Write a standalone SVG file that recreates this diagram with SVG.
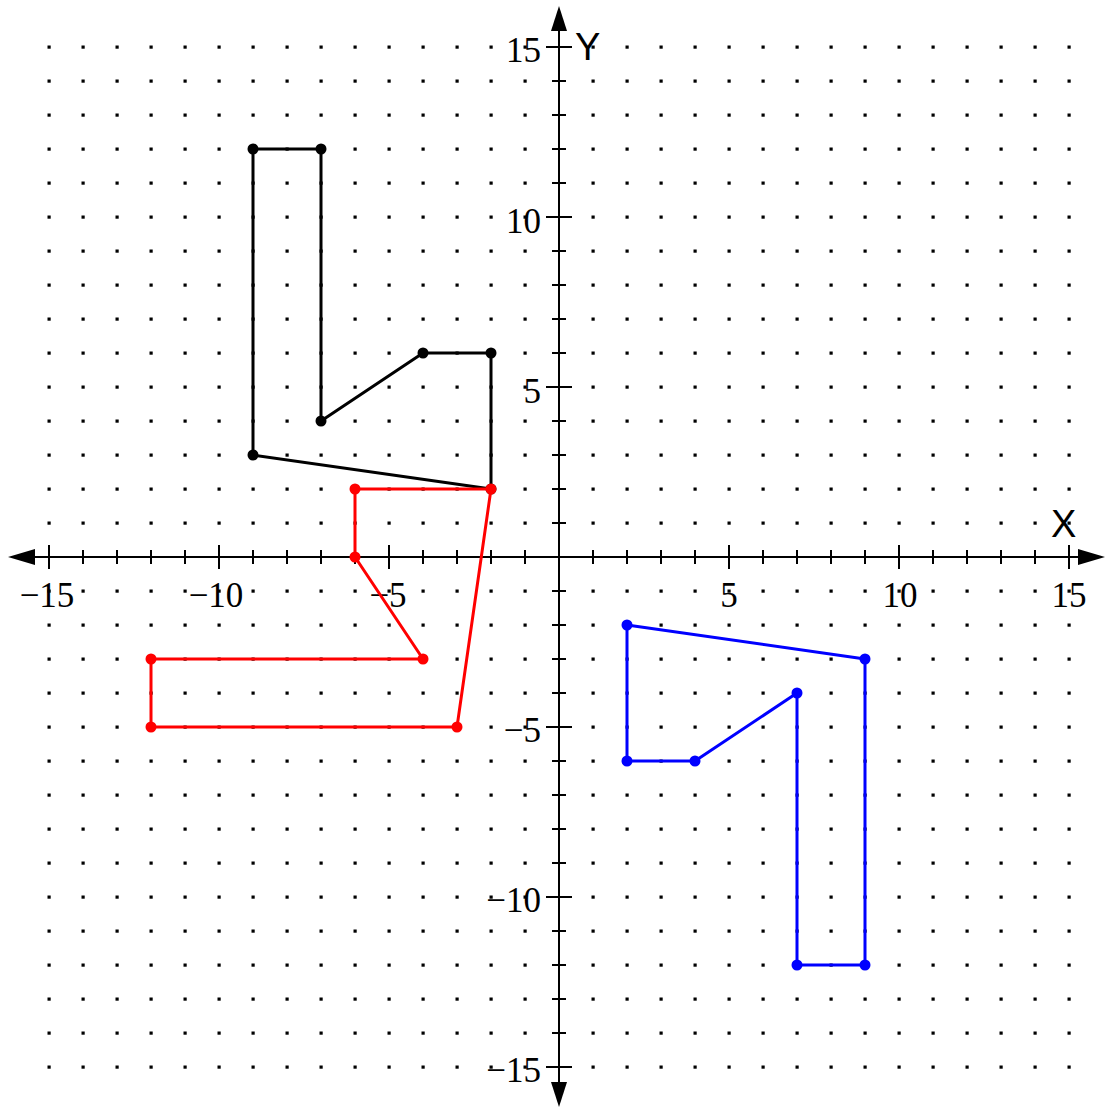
<svg xmlns="http://www.w3.org/2000/svg" width="1107" height="1108" viewBox="0 0 1107 1108">
<style>
.lbl{font-family:"Liberation Serif","Times New Roman",serif;font-size:35px;fill:#000}
.ax{font-family:"Liberation Sans",Arial,sans-serif;font-size:38px;fill:#000}
.axis{stroke:#000;stroke-width:2;fill:none}
.tick{stroke:#000;stroke-width:2}
.poly{fill:none;stroke-width:3;stroke-linejoin:round}
</style>
<defs>
<pattern id="dots" x="542" y="540" width="34" height="34" patternUnits="userSpaceOnUse">
<rect x="15.5" y="15.5" width="3.2" height="3.2" fill="#000"/>
</pattern>
</defs>
<rect width="1107" height="1108" fill="#fff"/>
<g id="grid" fill="url(#dots)">
<rect x="32" y="30" width="510" height="510"/>
<rect x="576" y="30" width="510" height="510"/>
<rect x="32" y="574" width="510" height="510"/>
<rect x="576" y="574" width="510" height="510"/>
</g>
<g id="axes">
<line class="axis" x1="20" y1="557" x2="1092" y2="557"/>
<line class="axis" x1="559" y1="18" x2="559" y2="1095"/>
<polygon points="8,557 35,549 35,565" fill="#000"/>
<polygon points="1105,557 1078,549 1078,565" fill="#000"/>
<polygon points="559,6 551,31 567,31" fill="#000"/>
<polygon points="559,1107 551,1082 567,1082" fill="#000"/>
<path class="tick" d="M49,545V569M83,550V564M117,550V564M151,550V564M185,550V564M219,545V569M253,550V564M287,550V564M321,550V564M355,550V564M389,545V569M423,550V564M457,550V564M491,550V564M525,550V564M593,550V564M627,550V564M661,550V564M695,550V564M729,545V569M763,550V564M797,550V564M831,550V564M865,550V564M899,545V569M933,550V564M967,550V564M1001,550V564M1035,550V564M1069,545V569"/>
<path class="tick" d="M546,47H572M552,81H566M552,115H566M552,149H566M552,183H566M546,217H572M552,251H566M552,285H566M552,319H566M552,353H566M546,387H572M552,421H566M552,455H566M552,489H566M552,523H566M552,591H566M552,625H566M552,659H566M552,693H566M546,727H572M552,761H566M552,795H566M552,829H566M552,863H566M546,897H572M552,931H566M552,965H566M552,999H566M552,1033H566M546,1067H572"/>
</g>
<g id="labels">
<text class="lbl" x="47" y="607" text-anchor="middle">−15</text>
<text class="lbl" x="216" y="607" text-anchor="middle">−10</text>
<text class="lbl" x="388" y="607" text-anchor="middle">−5</text>
<text class="lbl" x="729" y="607" text-anchor="middle">5</text>
<text class="lbl" x="900" y="607" text-anchor="middle">10</text>
<text class="lbl" x="1069" y="607" text-anchor="middle">15</text>
<text class="lbl" x="541" y="62" text-anchor="end">15</text>
<text class="lbl" x="541" y="233" text-anchor="end">10</text>
<text class="lbl" x="541" y="403" text-anchor="end">5</text>
<text class="lbl" x="541" y="742" text-anchor="end">−5</text>
<text class="lbl" x="541" y="912" text-anchor="end">−10</text>
<text class="lbl" x="541" y="1082" text-anchor="end">−15</text>
<text class="ax" x="575" y="60">Y</text>
<text class="ax" x="1051" y="537">X</text>
</g>
<g id="black-shape" stroke="#000" fill="#000">
<polygon class="poly" points="253,149 321,149 321,421 423,353 491,353 491,489 253,455"/>
<g stroke="none">
<circle cx="253" cy="149" r="5.5"/><circle cx="321" cy="149" r="5.5"/><circle cx="321" cy="421" r="5.5"/><circle cx="423" cy="353" r="5.5"/><circle cx="491" cy="353" r="5.5"/><circle cx="491" cy="489" r="5.5"/><circle cx="253" cy="455" r="5.5"/>
</g>
</g>
<g id="red-shape" stroke="#f00" fill="#f00">
<polygon class="poly" points="355,489 491,489 457,727 151,727 151,659 423,659 355,557"/>
<g stroke="none">
<circle cx="355" cy="489" r="5.5"/><circle cx="491" cy="489" r="5.5"/><circle cx="457" cy="727" r="5.5"/><circle cx="151" cy="727" r="5.5"/><circle cx="151" cy="659" r="5.5"/><circle cx="423" cy="659" r="5.5"/><circle cx="355" cy="557" r="5.5"/>
</g>
</g>
<g id="blue-shape" stroke="#00f" fill="#00f">
<polygon class="poly" points="627,625 865,659 865,965 797,965 797,693 695,761 627,761"/>
<g stroke="none">
<circle cx="627" cy="625" r="5.5"/><circle cx="865" cy="659" r="5.5"/><circle cx="865" cy="965" r="5.5"/><circle cx="797" cy="965" r="5.5"/><circle cx="797" cy="693" r="5.5"/><circle cx="695" cy="761" r="5.5"/><circle cx="627" cy="761" r="5.5"/>
</g>
</g>
</svg>
